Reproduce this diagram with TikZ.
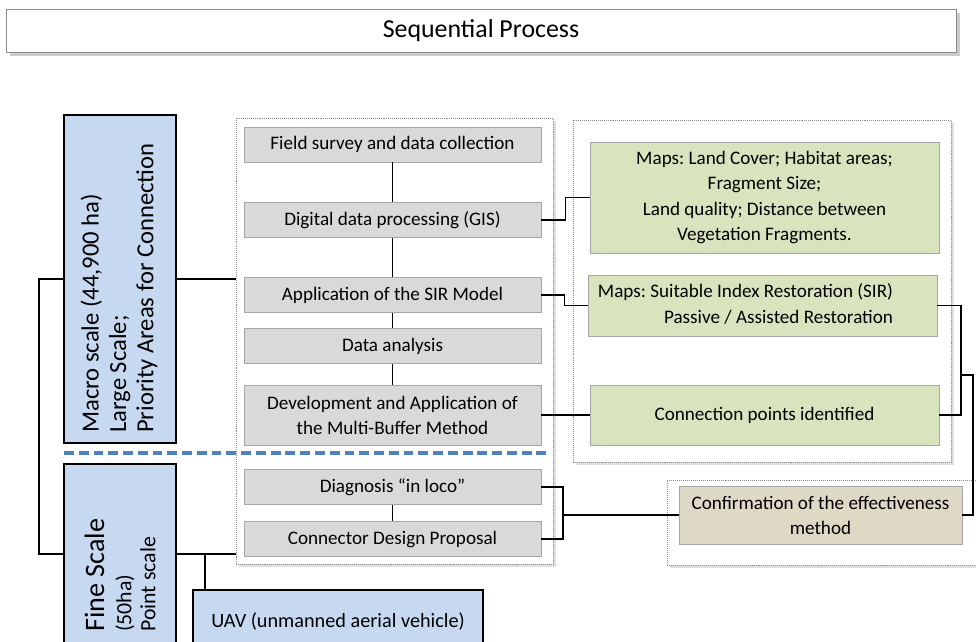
\documentclass[tikz,border=0pt]{standalone}
\usepackage{fontspec}
\setmainfont{Carlito}
\frenchspacing
\usetikzlibrary{shadows}
\definecolor{scaleblue}{HTML}{C6D9F1}
\definecolor{stepgray}{HTML}{D9D9D9}
\definecolor{mapgreen}{HTML}{D7E4BD}
\definecolor{checktan}{HTML}{DDD9C4}
\definecolor{splitblue}{HTML}{4F81BD}
\newcommand{\boxfont}{\fontsize{13.6}{17.8}\selectfont}

\begin{document}
\begin{tikzpicture}[x=0.025cm, y=-0.025cm,
    stepbox/.style={draw=black!35, fill=stepgray, minimum width=7.425cm, minimum height=0.875cm, inner sep=1pt, font=\boxfont, align=center},
    mapbox/.style={draw=black!35, fill=mapgreen, minimum width=8.725cm, inner sep=1pt, font=\boxfont},
    scalebox/.style={draw, line width=1.5pt, fill=scaleblue, minimum width=2.8cm},
    groupbox/.style={draw=black!45, densely dotted, fill=white, drop shadow={opacity=0.25, shadow xshift=2pt, shadow yshift=-2pt}},
    link/.style={line width=1.1pt}]
    \useasboundingbox (0,0) rectangle (976,641);

    % title
    \node[draw=black!45, fill=white, drop shadow={opacity=0.4, shadow xshift=3pt, shadow yshift=-3pt}, minimum width=23.75cm, minimum height=1.075cm, font=\fontsize{18.4}{22}\selectfont] (title) at (481,30.5) {Sequential Process};

    % dotted groups
    \node[groupbox, minimum width=7.925cm, minimum height=11.15cm] (midgroup) at (394.5,341) {};
    \node[groupbox, minimum width=9.45cm, minimum height=8.55cm] (mapgroup) at (762,291) {};
    \node[groupbox, minimum width=8.25cm, minimum height=2.125cm] (checkgroup) at (832,522.5) {};

    % process steps
    \node[stepbox] (survey) at (392.5,144.5) {Field survey and data collection};
    \node[stepbox] (gis) at (392.5,220) {Digital data processing (GIS)};
    \node[stepbox] (sir) at (392.5,295) {Application of the SIR Model};
    \node[stepbox] (analysis) at (392.5,346) {Data analysis};
    \node[stepbox, minimum height=1.5cm] (buffer) at (392.5,415) {Development and Application of\\the Multi-Buffer Method};
    \node[stepbox] (diagnosis) at (392.5,487) {Diagnosis “in loco”};
    \node[stepbox] (design) at (392.5,539) {Connector Design Proposal};

    % outputs
    \node[mapbox, minimum height=2.775cm, align=center] (landmaps) at (764.5,197.5) {Maps: Land Cover; Habitat areas;\\Fragment Size;\\Land quality; Distance between\\Vegetation Fragments.};
    \node[mapbox, minimum height=1.525cm] (sirmaps) at (762.5,305.5) {\begin{tabular}{@{}r@{}}Maps: Suitable Index Restoration (SIR)\\Passive / Assisted Restoration\end{tabular}\kern0.85cm};
    \node[mapbox, minimum height=1.5cm] (points) at (764.5,415) {Connection points identified};
    \node[draw=black!35, fill=checktan, minimum width=7.075cm, minimum height=1.45cm, inner sep=1pt, font=\boxfont, align=center] (confirm) at (820.5,515) {Confirmation of the effectiveness\\method};

    % scales
    \node[scalebox, minimum height=8.2cm] (macro) at (120,279) {};
    \node[scalebox, minimum height=4.5cm] (fine) at (120,554) {};
    \node[scalebox, minimum width=7.25cm, minimum height=1.55cm, anchor=north west, font=\fontsize{14.4}{17}\selectfont] (uav) at (192,589) {UAV (unmanned aerial vehicle)};
    \node[rotate=90, anchor=west, align=left, inner sep=0pt, font=\fontsize{17.5}{19.5}\selectfont] (macrotext) at (119,433) {Macro scale (44,900 ha)\\Large Scale;\\Priority Areas for Connection};
    \node[rotate=90, anchor=west, align=left, inner sep=0pt, font=\fontsize{15.5}{17}\selectfont] (finetext) at (120,632) {{\fontsize{20}{22}\selectfont Fine Scale}\\[2.5pt](50ha)\\Point scale};

    \draw[splitblue, line width=2.6pt, dash pattern=on 7pt off 3.5pt] (64,453) -- (551,453);

    % connectors
    \draw[link] (survey) -- (gis);
    \draw[link] (gis) -- (sir);
    \draw[link] (sir) -- (analysis);
    \draw[link] (analysis) -- (buffer);
    \draw[link] (diagnosis) -- (design);
    \draw[link] (gis.east) -- ++(24,0) |- (landmaps.west);
    \draw[link] (sir.east) -- ++(23,0) |- (sirmaps.west);
    \draw[link] (buffer.east) -- (points.west);
    \coordinate (mapjoin) at (961,375);
    \draw[link] (sirmaps.east) -| (mapjoin) |- (points.east);
    \draw[link] (mapjoin) -- ++(12,0) |- (confirm.east);
    \coordinate (fieldjoin) at (563,515);
    \draw[link] (diagnosis.east) -| (fieldjoin) |- (design.east);
    \draw[link] (fieldjoin) -- (confirm.west);
    \draw[link] (macro.east) -- (macro.east -| midgroup.west);
    \draw[link] (macro.west) -- ++(-24,0) |- (fine.west);
    \draw[link] (fine.east) -- (fine.east -| midgroup.west);
    \coordinate (uavjoin) at (205,554);
    \draw[link] (uavjoin) -- (uavjoin |- uav.north);
\end{tikzpicture}
\end{document}
